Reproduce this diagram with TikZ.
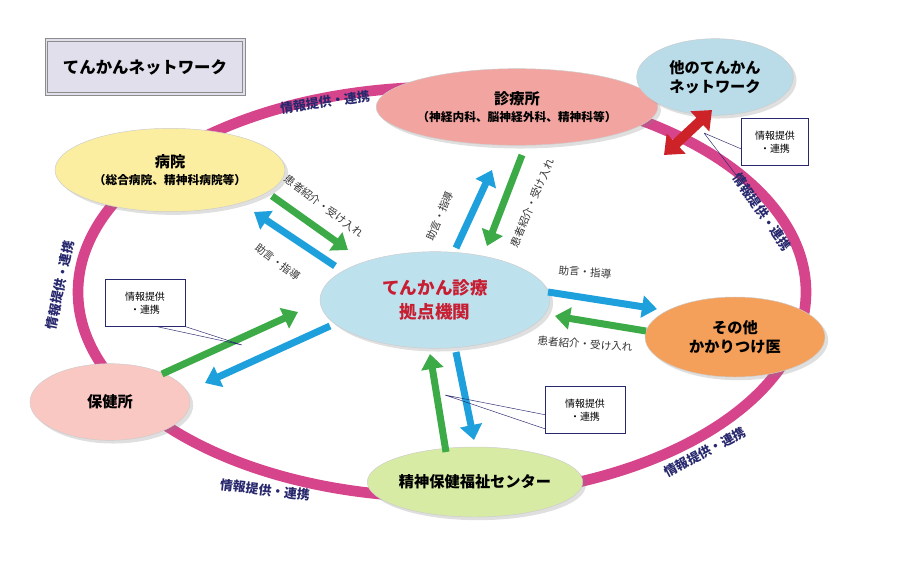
\documentclass[tikz,border=0pt]{standalone}
\usepackage{fontspec}
\setmainfont{Noto Sans CJK JP}
\usetikzlibrary{arrows.meta,shapes.geometric,shadows}
\definecolor{ringpink}{RGB}{214,68,140}
\definecolor{arrblue}{RGB}{30,160,220}
\definecolor{arrgreen}{RGB}{60,170,70}
\definecolor{arrred}{RGB}{205,35,40}
\definecolor{labnavy}{RGB}{40,40,110}
\definecolor{titlefill}{RGB}{226,223,236}
\definecolor{clinicfill}{RGB}{242,165,160}
\definecolor{otherfill}{RGB}{185,220,232}
\definecolor{hospfill}{RGB}{252,238,160}
\definecolor{corefill}{RGB}{190,225,238}
\definecolor{coretext}{RGB}{200,30,50}
\definecolor{gpfill}{RGB}{245,160,90}
\definecolor{healthfill}{RGB}{250,200,195}
\definecolor{mentalfill}{RGB}{215,235,165}
\tikzset{
    % nodes on the ring
    place/.style={
    ellipse,
    draw=black!20,
    font=\bfseries\fontsize{13}{16}\selectfont,
    align=center,
    inner sep=0pt,
    drop shadow={opacity=0.25},
    },
    ringlabel/.style={
    font=\bfseries\fontsize{11}{13}\selectfont,
    text=labnavy,
    },
    flowlabel/.style={
    font=\fontsize{9}{11}\selectfont,
    text=black!80,
    },
    callout/.style={
    rectangle,
    draw=labnavy,
    fill=white,
    font=\fontsize{8.5}{11}\selectfont,
    align=center,
    minimum width=24mm,
    minimum height=14mm,
    },
    fat/.style={
    line width=2.1mm,
    -{Triangle[width=6.5mm,length=4.5mm]},
    },
}
\begin{document}
\begin{tikzpicture}[x=0.3mm,y=-0.3mm]
    \useasboundingbox (0,0) rectangle (900,564);
    % ring
    \draw[ringpink,line width=3.2mm] (442,292) ellipse [x radius=364,y radius=205];

    \node (title) [draw=black!45,line width=0.8pt,fill=titlefill,
        minimum width=60mm,minimum height=17mm,font=\bfseries\fontsize{14}{17}\selectfont]
        at (145,67) {てんかんネットワーク};
    \draw[black!45,line width=0.6pt] ([shift={(3,3)}]title.north west) rectangle ([shift={(-3,-3)}]title.south east);

    \node (clinic)  [place,fill=clinicfill,minimum width=66mm,minimum height=23mm]
        at (517,107) {診療所\\[-1pt]{\fontsize{10}{12}\selectfont（神経内科、脳神経外科、精神科等）}};
    \node (other)   [place,fill=otherfill,minimum width=47mm,minimum height=23mm]
        at (715,77) {他のてんかん\\ネットワーク};
    \node (hosp)    [place,fill=hospfill,minimum width=69mm,minimum height=25mm]
        at (170,170) {病院\\[-1pt]{\fontsize{10}{12}\selectfont（総合病院、精神科病院等）}};
    \node (core)    [place,fill=corefill,minimum width=69mm,minimum height=29mm,
        text=coretext,font=\bfseries\fontsize{15}{20}\selectfont]
        at (435,300) {てんかん診療\\拠点機関};
    \node (gp)      [place,fill=gpfill,minimum width=54mm,minimum height=24mm]
        at (735,337) {その他\\かかりつけ医};
    \node (health)  [place,fill=healthfill,minimum width=48mm,minimum height=23mm]
        at (110,402) {保健所};
    \node (mental)  [place,fill=mentalfill,minimum width=57mm,minimum height=21mm]
        at (475,482) {精神保健福祉センター};

    % ring labels
    \node[ringlabel,rotate=8]   at (325,102) {情報提供・連携};
    \node[ringlabel,rotate=78]  at (60,285)  {情報提供・連携};
    \node[ringlabel,rotate=-55] at (762,212) {情報提供・連携};
    \node[ringlabel,rotate=28]  at (705,452) {情報提供・連携};
    \node[ringlabel,rotate=-7]  at (265,490) {情報提供・連携};

    % hospital
    \draw[fat,arrgreen] (272,196) -- (348,250);
    \draw[fat,arrblue]  (335,266) -- (254,212);
    \node[flowlabel,rotate=-37] at (324,206) {患者紹介・受け入れ};
    \node[flowlabel,rotate=-37] at (278,262) {助言・指導};
    % clinic
    \draw[fat,arrblue]  (456,248) -- (492,170);
    \draw[fat,arrgreen] (522,155) -- (487,246);
    \node[flowlabel,rotate=67] at (440,216) {助言・指導};
    \node[flowlabel,rotate=67] at (532,203) {患者紹介・受け入れ};
    % gp
    \draw[fat,arrblue]  (548,292) -- (657,309);
    \draw[fat,arrgreen] (646,331) -- (555,316);
    \node[flowlabel,rotate=-4] at (585,272) {助言・指導};
    \node[flowlabel,rotate=-4] at (585,344) {患者紹介・受け入れ};
    % mental health centre
    \draw[fat,arrgreen] (446,452) -- (430,354);
    \draw[fat,arrblue]  (456,352) -- (474,440);
    \node (boxc) [callout] at (585,410) {情報提供\\・連携};
    \coordinate (pc) at (445,395);
    \draw[labnavy] (pc) -- ([yshift=-4]boxc.west) (pc) -- ([yshift=-16]boxc.west);
    % health centre
    \draw[fat,arrgreen] (162,374) -- (298,312);
    \draw[fat,arrblue]  (330,326) -- (205,383);
    \node (boxh) [callout] at (145,303) {情報提供\\・連携};
    \coordinate (ph) at (242,345);
    \draw[labnavy] (ph) -- ([xshift=10]boxh.south) (ph) -- (boxh.south east);
    % other network
    \draw[line width=3mm,{Triangle[width=8mm,length=5mm]}-{Triangle[width=8mm,length=5mm]},arrred]
        (664,155) -- (712,110);
    \node (boxo) [callout,minimum width=20mm] at (775,142) {情報提供\\・連携};
    \coordinate (po) at (704,133);
    \draw[labnavy] (po) -- ([yshift=-6]boxo.west) (po) -- ([yshift=-14]boxo.south west);
\end{tikzpicture}
\end{document}
